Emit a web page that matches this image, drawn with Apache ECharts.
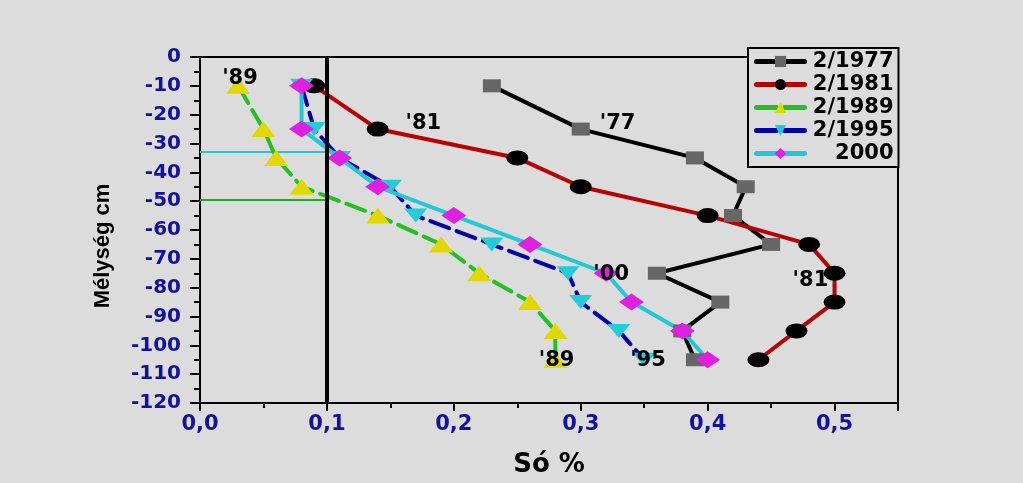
<!DOCTYPE html>
<html>
<head>
<meta charset="utf-8">
<script src="https://cdn.jsdelivr.net/npm/echarts@6/dist/echarts.min.js"></script>
<style>
  html, body { margin: 0; padding: 0; background: #dcdcdc; }
  #chart { width: 1023px; height: 483px; }
</style>
</head>
<body>
<div id="chart"></div>
<script>
// ---- data ----
const depths = [-10, -25, -35, -45, -55, -65, -75, -85, -95, -105];
const s1977 = [0.23, 0.30, 0.39, 0.43, 0.42, 0.45, 0.36, 0.41, 0.38, 0.39];
const s1981 = [0.09, 0.14, 0.25, 0.30, 0.40, 0.48, 0.50, 0.50, 0.47, 0.44];
const s1989 = [0.03, 0.05, 0.06, 0.08, 0.14, 0.19, 0.22, 0.26, 0.28, 0.28];
const s1995 = [0.08, 0.09, 0.11, 0.15, 0.17, 0.23, 0.29, 0.30, 0.33, 0.35];
const s2000 = [0.08, 0.08, 0.11, 0.14, 0.20, 0.26, 0.32, 0.34, 0.38, 0.40];
const seriesNames = ['2/1977', '2/1981', '2/1989', '2/1995', '2000'];
const annotTexts = ["'89", "'81", "'77", "'00", "'81", "'89", "'95"];
const annotX = [0.0315, 0.176, 0.329, 0.324, 0.481, 0.281, 0.353];
const annotY = [-7.4, -23.0, -23.0, -75.4, -77.6, -105.3, -105.3];
const limitX = 0.1;
const refLineCyanY = -33;
const refLineGreenY = -49.5;

const pairs = (xs) => xs.map((x, i) => [x, depths[i]]);

const numFont = 'DejaVu Sans';
const labelBlue = '#12129e';

const chart = echarts.init(document.getElementById('chart'));

function lineSeries(name, xs, color, dashed, symbol, symSize, symColor) {
  return {
    name: name,
    type: 'line',
    data: pairs(xs),
    z: 3,
    symbol: symbol,
    symbolSize: symSize,
    showAllSymbol: true,
    itemStyle: { color: symColor, borderWidth: 0 },
    lineStyle: { color: color, width: 4, type: dashed ? [20, 8] : 'solid', cap: 'round' },
    emphasis: { disabled: true }
  };
}

const option = {
  backgroundColor: '#dcdcdc',
  animation: false,
  grid: { left: 200, top: 57, right: 125, bottom: 79, show: true, borderColor: '#000', borderWidth: 2, backgroundColor: 'transparent' },
  legend: {
    data: seriesNames,
    orient: 'vertical',
    left: 748, top: 48,
    padding: [3, 5, 3, 6],
    itemWidth: 48, itemHeight: 14, itemGap: 2,
    backgroundColor: '#dcdcdc',
    borderColor: '#000', borderWidth: 2,
    lineStyle: { width: 5 },
    formatter: (n) => '{a|' + n + '}',
    textStyle: {
      color: '#000', fontFamily: numFont, fontWeight: 'bold', fontSize: 21, lineHeight: 20,
      rich: { a: { width: 84, align: 'right', color: '#000', fontFamily: numFont, fontWeight: 'bold', fontSize: 21, lineHeight: 20 } }
    }
  },
  xAxis: {
    type: 'value', min: 0, max: 0.55, interval: 0.1,
    name: 'Só %', nameLocation: 'middle', nameGap: 49,
    nameTextStyle: { color: '#000', fontFamily: numFont, fontWeight: 'bold', fontSize: 26 },
    axisLine: { show: true, onZero: false, lineStyle: { color: '#000', width: 2 } },
    axisTick: { show: true, length: 8, lineStyle: { color: '#000', width: 2 } },
    minorTick: { show: true, splitNumber: 2, length: 5, lineStyle: { color: '#000', width: 2 } },
    splitLine: { show: false },
    axisLabel: {
      showMaxLabel: false, margin: 11, color: labelBlue, fontFamily: numFont, fontWeight: 'bold', fontSize: 21,
      formatter: (v) => (Math.abs(v * 10 - Math.round(v * 10)) < 1e-6 ? v.toFixed(1).replace('.', ',') : '')
    }
  },
  yAxis: {
    type: 'value', min: -120, max: 0, interval: 10,
    name: 'Mélység cm', nameLocation: 'middle', nameGap: 86, nameRotate: 90,
    nameTextStyle: { color: '#000', fontFamily: 'Liberation Sans', fontWeight: 'bold', fontSize: 22, padding: [0, 32, 0, 0] },
    axisLine: { show: true, onZero: false, lineStyle: { color: '#000', width: 2 } },
    axisTick: { show: true, length: 10, lineStyle: { color: '#000', width: 2 } },
    minorTick: { show: true, splitNumber: 2, length: 6, lineStyle: { color: '#000', width: 2 } },
    splitLine: { show: false },
    axisLabel: { margin: 19, color: labelBlue, fontFamily: numFont, fontWeight: 'bold', fontSize: 20 }
  },
  series: [
    {
      name: 'refH', type: 'line', data: [], z: 1,
      markLine: {
        silent: true, symbol: ['none', 'none'], label: { show: false }, z: 1,
        lineStyle: { color: '#22c8d4', width: 2, type: 'solid' },
        data: [[{ coord: [0, refLineCyanY] }, { coord: [limitX, refLineCyanY] }]]
      }
    },
    {
      name: 'refH2', type: 'line', data: [], z: 1,
      markLine: {
        silent: true, symbol: ['none', 'none'], label: { show: false }, z: 1,
        lineStyle: { color: '#1fb01f', width: 2, type: 'solid' },
        data: [[{ coord: [0, refLineGreenY] }, { coord: [limitX, refLineGreenY] }]]
      }
    },
    lineSeries('2/1977', s1977, '#000000', false, 'rect', [18, 13], '#666666'),
    lineSeries('2/1981', s1981, '#b80000', false, 'circle', [22, 15], '#000000'),
    lineSeries('2/1989', s1989, '#22c022', true, 'triangle', [24, 16], '#e2d800'),
    lineSeries('2/1995', s1995, '#0000aa', true, 'path://M0,0 L2,0 L1,1 Z', [23, 14], '#22ccd8'),
    lineSeries('2000', s2000, '#22c8d6', false, 'diamond', [25, 17], '#e020e0'),
    {
      name: 'refV', type: 'line', data: [], z: 6,
      markLine: {
        silent: true, symbol: ['none', 'none'], label: { show: false }, z: 6,
        lineStyle: { color: '#000', width: 4, type: 'solid' },
        data: [[{ coord: [limitX, 0] }, { coord: [limitX, -120] }]]
      }
    },
    {
      name: 'annot', type: 'scatter', z: 8, silent: true,
      symbol: 'circle', symbolSize: 1,
      itemStyle: { color: 'rgba(0,0,0,0)', opacity: 1 },
      data: annotTexts.map((t, i) => ({ name: t, value: [annotX[i], annotY[i]] })),
      label: {
        show: true, position: 'inside', formatter: (p) => p.name,
        color: '#000', opacity: 1, textBorderWidth: 0,
        fontFamily: numFont, fontWeight: 'bold', fontSize: 21
      },
      emphasis: { disabled: true }
    }
  ]
};
chart.setOption(option);
</script>
</body>
</html>
